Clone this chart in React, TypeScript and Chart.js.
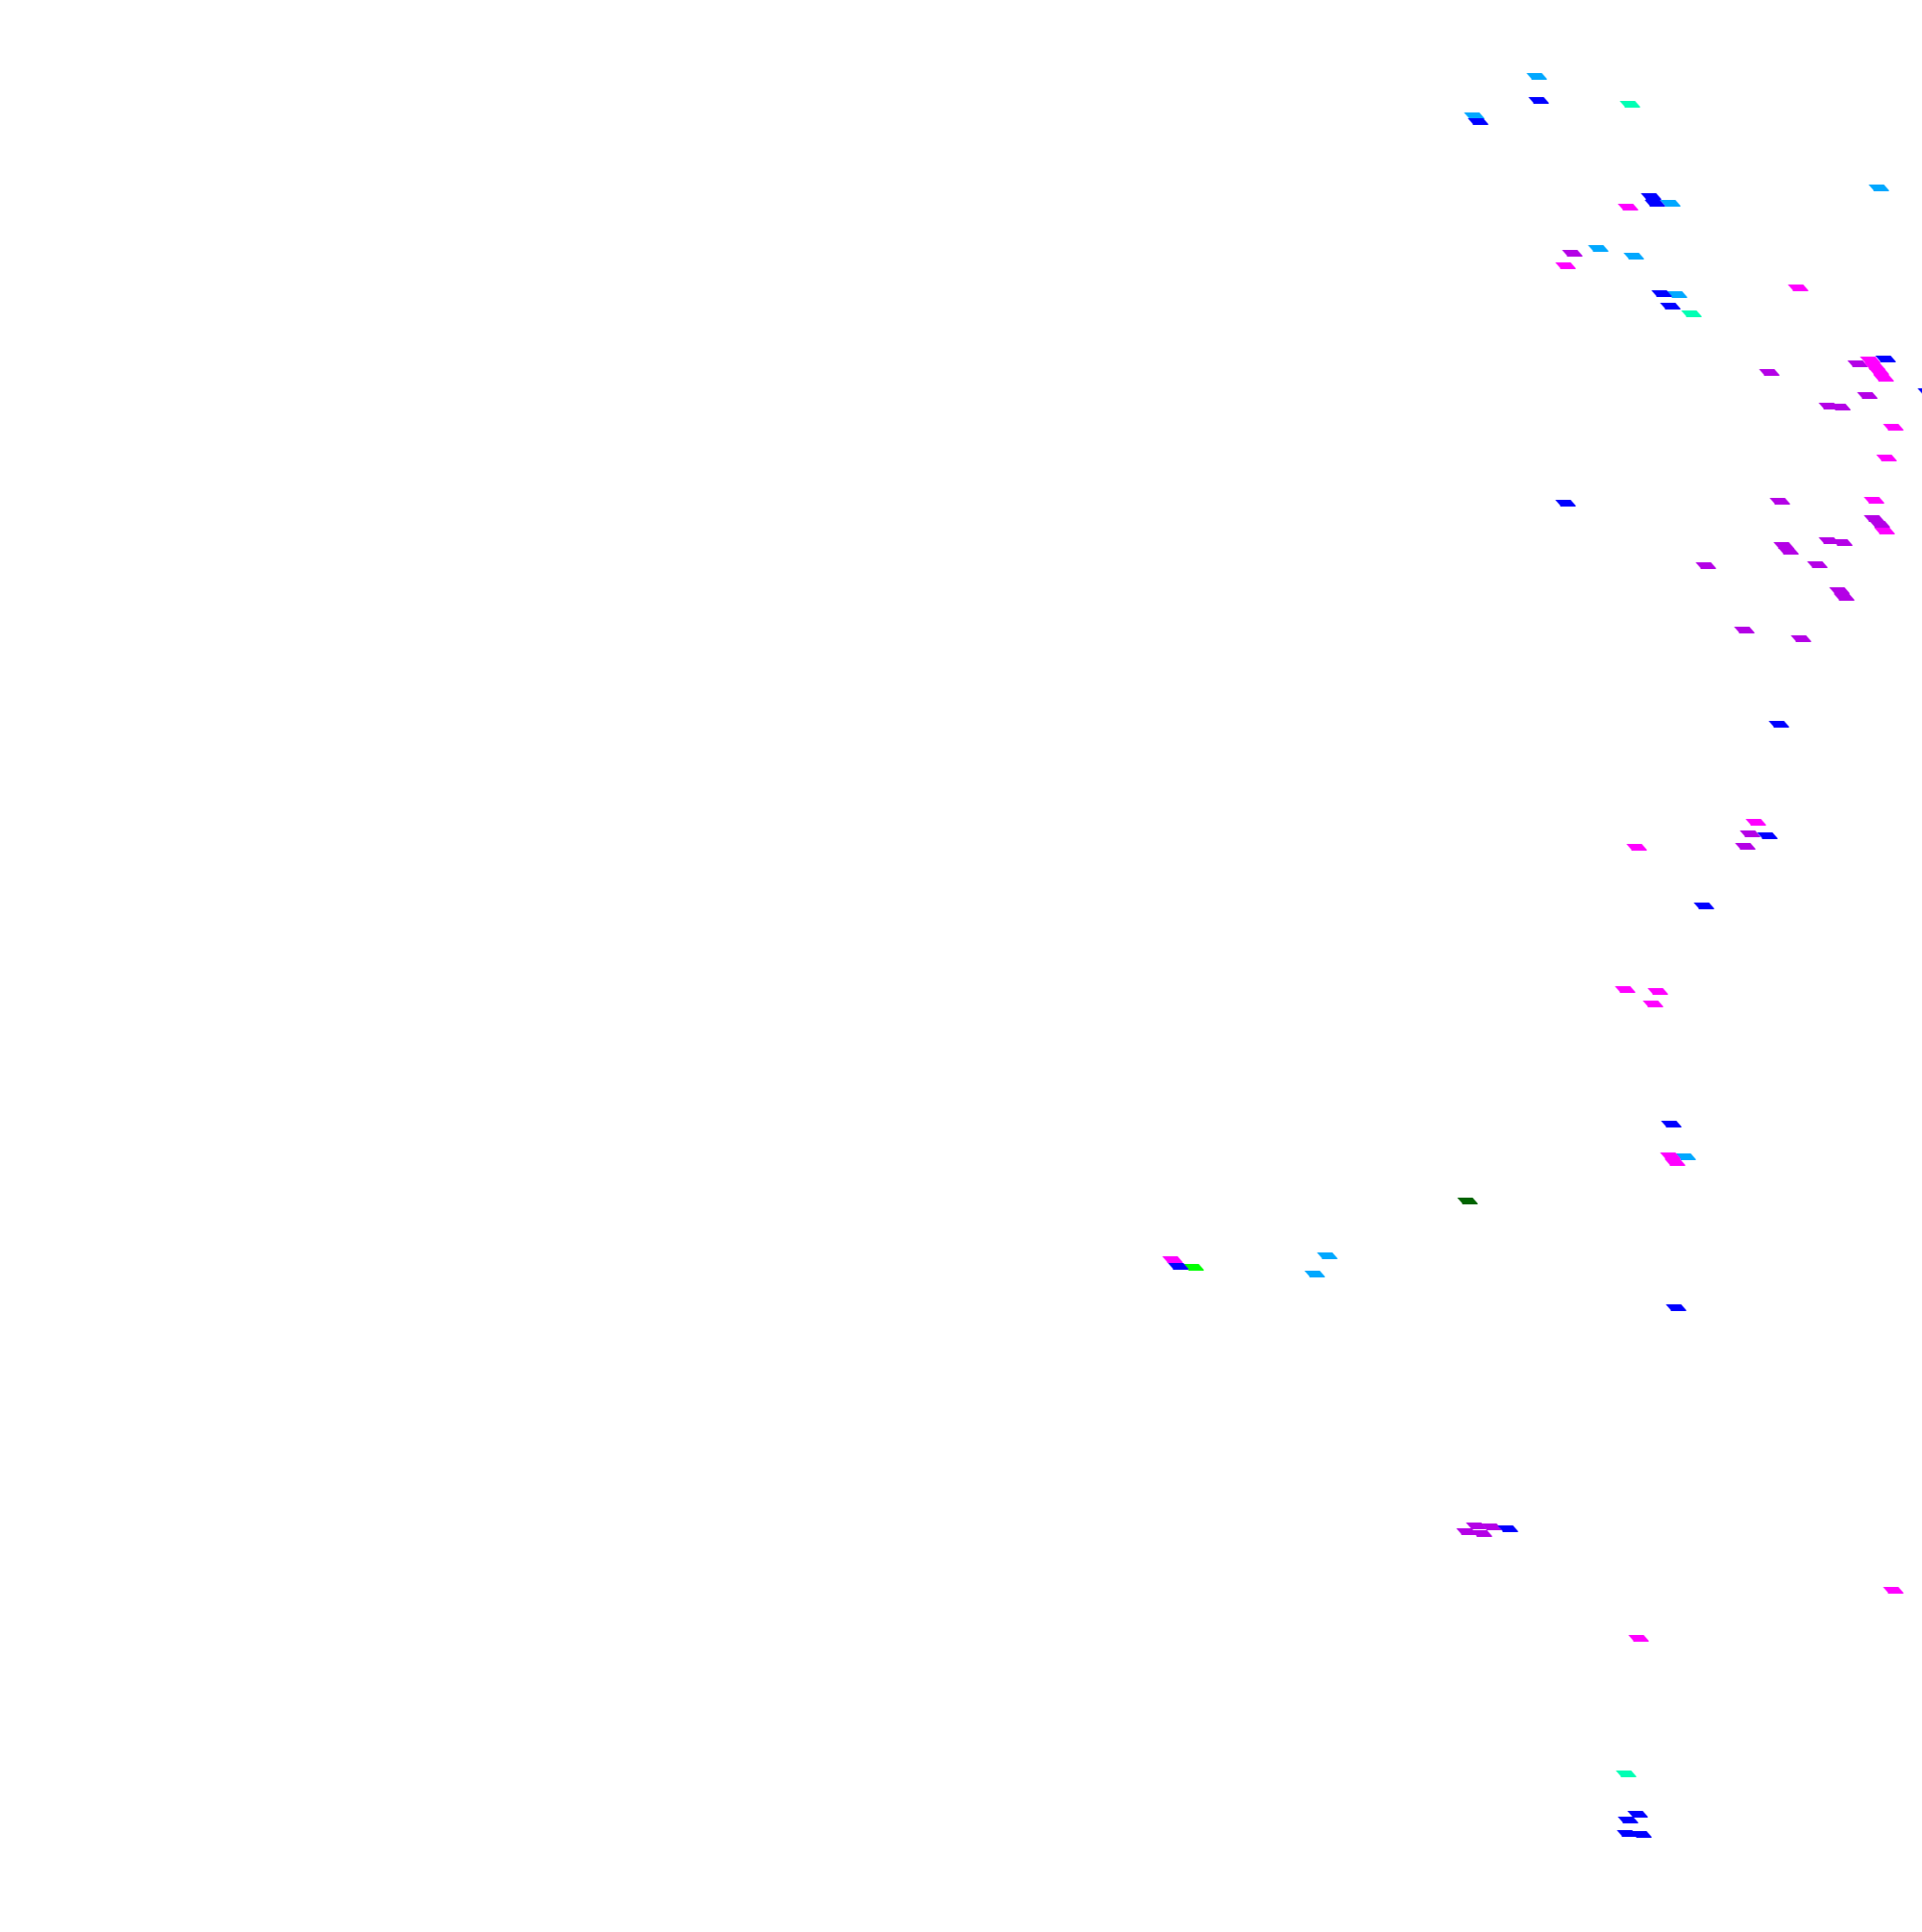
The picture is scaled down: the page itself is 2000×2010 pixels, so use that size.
import React, { useEffect, useRef } from "react";
import { Chart, registerables } from "chart.js";

Chart.register(...registerables);

// Each point: [x, y] in chart units (x: 0..200, y: 0..201)
const magentaPoints: [number, number][] = [
  [169.4, 179.5], [162.9, 173.4], [187.1, 171.1], [194.6, 163.6], [195.1, 162.9],
  [195.5, 162.4], [196.0, 161.7], [197.0, 156.6], [196.3, 153.4], [195.0, 149.0],
  [196.1, 145.8], [182.7, 115.5], [170.3, 112.9], [169.1, 98.1], [172.5, 97.9],
  [172.0, 96.6], [173.8, 80.8], [174.3, 80.1], [122.0, 70.0], [197.0, 35.6],
  [170.5, 30.6],
];

const bluePoints: [number, number][] = [
  [160.1, 190.6], [153.8, 188.4], [171.8, 180.6], [172.2, 179.9], [172.9, 170.5],
  [173.8, 169.2], [196.2, 163.7], [200.6, 160.3], [162.9, 148.7], [185.1, 125.7],
  [183.9, 114.1], [177.3, 106.8], [173.9, 84.1], [122.6, 69.3], [174.4, 65.0],
  [156.9, 42.0], [170.4, 12.3], [169.4, 11.7], [169.3, 10.3], [170.8, 10.2],
];

const skyPoints: [number, number][] = [
  [159.9, 193.1], [153.4, 189.0], [195.5, 181.5], [173.8, 179.9], [166.3, 175.2],
  [170.0, 174.4], [174.5, 170.4], [175.4, 80.7], [138.1, 70.4], [136.8, 68.5],
];

const aquaPoints: [number, number][] = [
  [169.6, 190.2], [176.0, 168.4], [169.2, 16.5],
];

const purplePoints: [number, number][] = [
  [163.6, 174.7], [193.3, 163.2], [184.1, 162.3], [194.3, 159.9], [190.3, 158.8],
  [191.5, 158.7], [185.2, 148.9], [195.0, 147.1], [195.6, 146.5], [190.3, 144.8],
  [191.7, 144.6], [185.6, 144.3], [186.1, 143.7], [177.5, 142.2], [189.1, 142.3],
  [191.4, 139.6], [191.9, 138.9], [181.5, 135.5], [187.4, 134.6], [182.1, 114.3],
  [181.6, 113.0], [153.6, 42.3], [155.2, 42.2], [152.6, 41.7], [154.2, 41.5],
];

const greenPoints: [number, number][] = [[124.2, 69.2]];
const darkGreenPoints: [number, number][] = [[152.7, 76.1]];

const seriesNames = ["magenta", "blue", "sky", "aqua", "purple", "green", "darkgreen"];
const seriesColors = ["#ff00ff", "#0000ff", "#00a8ff", "#00ffb4", "#b400e6", "#00ff00", "#006400"];
const seriesData = [magentaPoints, bluePoints, skyPoints, aquaPoints, purplePoints, greenPoints, darkGreenPoints];

function makeMarker(color: string): HTMLCanvasElement {
  const c = document.createElement("canvas");
  c.width = 22;
  c.height = 7;
  const g = c.getContext("2d")!;
  g.fillStyle = color;
  g.beginPath();
  g.moveTo(0, 0);
  g.lineTo(16, 0);
  g.lineTo(22, 7);
  g.lineTo(6, 7);
  g.closePath();
  g.fill();
  return c;
}

export default function App() {
  const ref = useRef<HTMLCanvasElement | null>(null);
  useEffect(() => {
    if (!ref.current) return;
    const datasets = seriesData.map((pts, i) => ({
      label: seriesNames[i],
      data: pts.map(([x, y]) => ({ x, y })),
      pointStyle: makeMarker(seriesColors[i]),
      pointRadius: 12,
      backgroundColor: seriesColors[i],
      borderColor: seriesColors[i],
      showLine: false,
      clip: false as const,
    }));
    const chart = new Chart(ref.current, {
      type: "scatter",
      data: { datasets },
      options: {
        animation: false,
        responsive: false,
        devicePixelRatio: 1,
        layout: { padding: 0, autoPadding: false },
        plugins: { legend: { display: false }, tooltip: { enabled: false } },
        scales: {
          x: { type: "linear", min: 0, max: 200, display: false },
          y: { type: "linear", min: 0, max: 201, display: false },
        },
      },
    });
    return () => chart.destroy();
  }, []);
  return (
    <div style={{ position: "absolute", left: 0, top: 0, width: 2000, height: 2010, background: "#fff" }}>
      <canvas ref={ref} width={2000} height={2010} />
    </div>
  );
}
